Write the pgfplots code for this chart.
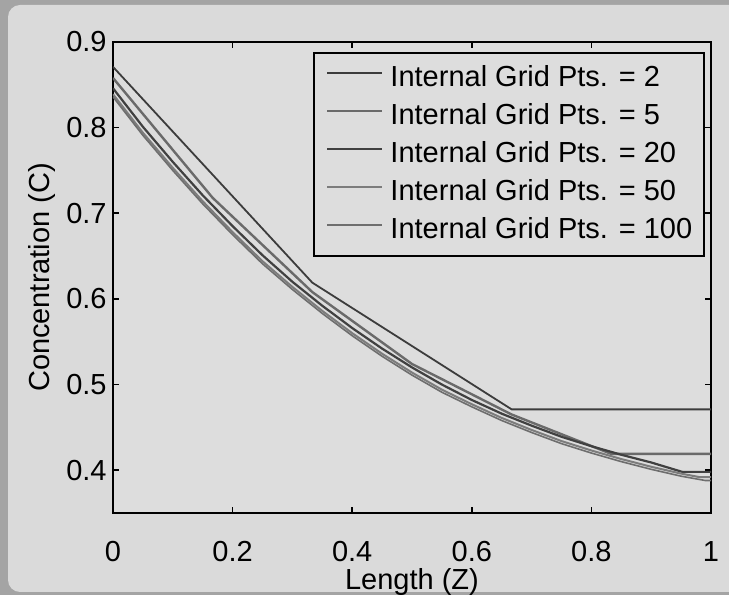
\documentclass[border=0pt]{standalone}
\usepackage{fontspec}
\setmainfont{Liberation Sans}
\usepackage{pgfplots}
\pgfplotsset{compat=1.18}

\definecolor{frame}{HTML}{A4A4A4}
\definecolor{bgfig}{HTML}{DADADA}
\definecolor{bgax}{HTML}{DDDDDD}
\definecolor{cA}{HTML}{3C3C3C}
\definecolor{cB}{HTML}{6A6A6A}
\definecolor{cC}{HTML}{404040}
\definecolor{cD}{HTML}{7C7C7C}
\definecolor{cE}{HTML}{6E6E6E}

\newcommand{\chartfont}{\fontsize{14.5}{17}\selectfont}

\begin{document}
\begin{tikzpicture}
% page: 729x595 px at 0.5pt per px
\useasboundingbox (0,0) rectangle (364.5pt,297.5pt);
\fill[frame] (0,0) rectangle (364.5pt,297.5pt);
\fill[bgfig, rounded corners=6pt] (4pt,1.5pt) rectangle (372pt,295pt);

\begin{axis}[
    at={(56.5pt,41pt)}, anchor=south west,
    scale only axis,
    width=299pt, height=235.5pt,
    xmin=0, xmax=1, ymin=0.35, ymax=0.9,
    xtick={0,0.2,0.4,0.6,0.8,1},
    ytick={0.4,0.5,0.6,0.7,0.8,0.9},
    xtick pos=both, ytick pos=both,
    tick align=inside,
    major tick length=3pt,
    every tick/.style={black, line width=0.8pt},
    axis line style={black, line width=1pt},
    axis background/.style={fill=bgax},
    /pgf/number format/assume math mode=true,
    tick label style={font=\chartfont},
    xticklabel style={anchor=center, inner sep=0pt, yshift=-19.5pt},
    yticklabel style={anchor=east, inner sep=0pt, xshift=-3pt},
    label style={font=\chartfont, inner sep=0pt},
    xlabel={Length (Z)},
    ylabel={Concentration (C)},
    xlabel style={at={(axis description cs:0.5,-0.1465)}, anchor=center},
    ylabel style={at={(axis description cs:-0.1187,0.5)}, anchor=center},
    legend cell align=left,
    legend image code/.code={\draw[#1] (0pt,2.8pt) -- (27.5pt,2.8pt);},
    legend style={
        at={(axis description cs:1,1)}, anchor=north east,
        xshift=-3pt, yshift=-5pt,
        draw=black, line width=0.8pt, fill=bgax,
        font=\chartfont,
        inner xsep=6pt, inner ysep=6pt,
        column sep=3.5pt, row sep=5.4pt,
        nodes={inner sep=0pt, text height=10.6pt, text depth=3pt},
    },
]

% N = 2
\addplot[cA, line width=0.9pt] coordinates {
    (0,0.871) (0.3333,0.619) (0.6667,0.471) (1,0.471)};

% N = 5
\addplot[cB, line width=1.2pt] coordinates {
    (0,0.858) (0.1667,0.718) (0.3333,0.608) (0.5,0.524)
    (0.6667,0.465) (0.8333,0.419) (1,0.419)};

% N = 20
\addplot[cC, line width=1.1pt] coordinates {
    (0,0.846) (0.05,0.801) (0.1,0.760) (0.15,0.721) (0.2,0.685)
    (0.25,0.651) (0.3,0.620) (0.35,0.592) (0.4,0.566) (0.45,0.542)
    (0.5,0.520) (0.55,0.500) (0.6,0.482) (0.65,0.466) (0.7,0.452)
    (0.75,0.439) (0.8,0.428) (0.85,0.418) (0.9,0.409) (0.952,0.398)
    (1,0.398)};

% N = 50
\addplot[cD, line width=1pt] coordinates {
    (0,0.839) (0.05,0.794) (0.1,0.753) (0.15,0.714) (0.2,0.678)
    (0.25,0.644) (0.3,0.614) (0.35,0.586) (0.4,0.560) (0.45,0.536)
    (0.5,0.514) (0.55,0.494) (0.6,0.477) (0.65,0.461) (0.7,0.447)
    (0.75,0.434) (0.8,0.423) (0.85,0.413) (0.9,0.404) (0.95,0.396)
    (0.98,0.392) (1,0.392)};

% N = 100
\addplot[cE, line width=0.8pt] coordinates {
    (0,0.836) (0.05,0.791) (0.1,0.750) (0.15,0.711) (0.2,0.675)
    (0.25,0.641) (0.3,0.611) (0.35,0.583) (0.4,0.557) (0.45,0.533)
    (0.5,0.511) (0.55,0.491) (0.6,0.474) (0.65,0.458) (0.7,0.444)
    (0.75,0.431) (0.8,0.420) (0.85,0.410) (0.9,0.401) (0.95,0.393)
    (0.99,0.388) (1,0.388)};

\legend{Internal Grid Pts. = 2, Internal Grid Pts. = 5,
        Internal Grid Pts. = 20, Internal Grid Pts. = 50,
        Internal Grid Pts. = 100}
\end{axis}
\end{tikzpicture}
\end{document}
